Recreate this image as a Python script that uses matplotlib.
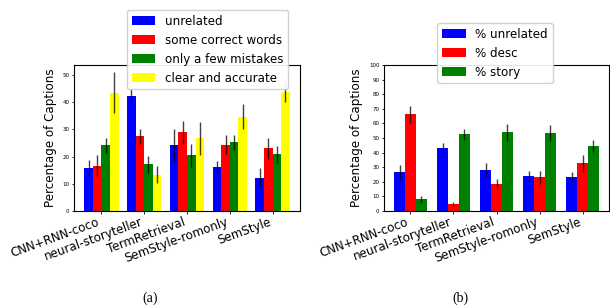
import matplotlib
matplotlib.use("Agg")
import matplotlib.pyplot as plt
import numpy as np

methods = ["CNN+RNN-coco", "neural-storyteller", "TermRetrieval", "SemStyle-romonly", "SemStyle"]

# Panel (a)
labels_a = ["unrelated", "some correct words", "only a few mistakes", "clear and accurate"]
colors_a = ["blue", "red", "green", "yellow"]
unrelated_a = [15.8, 42.4, 24.1, 16.0, 12.3]
unrelated_a_err = [3.1, 2.4, 6.0, 2.5, 3.5]
somewords_a = [16.7, 27.4, 28.9, 24.4, 23.0]
somewords_a_err = [3.8, 2.6, 4.2, 3.5, 4.0]
fewmist_a = [24.1, 17.1, 20.4, 25.2, 20.8]
fewmist_a_err = [2.7, 3.2, 4.2, 2.8, 3.2]
clear_a = [43.5, 13.4, 26.7, 34.7, 43.8]
clear_a_err = [7.6, 3.0, 6.1, 4.5, 3.8]

# Panel (b)
labels_b = ["% unrelated", "% desc", "% story"]
colors_b = ["blue", "red", "green"]
unrelated_b = [26.5, 43.2, 27.9, 23.7, 23.1]
unrelated_b_err = [5.1, 3.7, 5.2, 3.8, 3.5]
desc_b = [66.2, 4.6, 18.3, 23.1, 32.6]
desc_b_err = [5.7, 1.4, 3.3, 4.3, 5.7]
story_b = [8.0, 52.5, 53.9, 53.2, 44.5]
story_b_err = [2.3, 3.7, 6.0, 5.5, 4.0]

fig = plt.figure(figsize=(6.10, 3.08), dpi=100)
ax1 = fig.add_axes([74/610, 1-211/308, 226/610, 146/308])
ax2 = fig.add_axes([384/610, 1-211/308, 225/610, 146/308])

FS = 8.6
x = np.arange(len(methods))

def draw(ax, series, errs, labels, colors, width):
    n = len(series)
    handles = []
    for i, (vals, e, lab, c) in enumerate(zip(series, errs, labels, colors)):
        off = (i - (n - 1) / 2) * width
        h = ax.bar(x + off, vals, width, yerr=e, color=c, label=lab,
                   error_kw=dict(ecolor="black", elinewidth=1.0, alpha=0.75))
        handles.append(h)
    ax.set_xticks(x)
    ax.set_xticklabels(methods, rotation=20, ha="right", fontsize=FS,
                       rotation_mode="default")
    ax.set_ylabel("Percentage of Captions", fontsize=FS)
    ax.tick_params(axis="y", labelsize=4, length=1.8, width=0.6, pad=1.5)
    ax.tick_params(axis="x", length=1.8, width=0.6, pad=1.5)
    for s in ax.spines.values():
        s.set_linewidth(0.8)
    return handles

draw(ax1, [unrelated_a, somewords_a, fewmist_a, clear_a],
     [unrelated_a_err, somewords_a_err, fewmist_a_err, clear_a_err],
     labels_a, colors_a, 0.2)
ax1.set_yticks([0, 10, 20, 30, 40, 50])

draw(ax2, [unrelated_b, desc_b, story_b],
     [unrelated_b_err, desc_b_err, story_b_err],
     labels_b, colors_b, 0.25)
ax2.set_ylim(0, 100)
ax2.set_yticks(np.arange(0, 101, 10))

ax1.legend(loc="upper center", bbox_to_anchor=(207.5/610, 1-4/308),
           bbox_transform=fig.transFigure, fontsize=FS, framealpha=0.9,
           borderpad=0.4)
ax2.legend(loc="upper center", bbox_to_anchor=(495/610, 1-17/308),
           bbox_transform=fig.transFigure, fontsize=FS, framealpha=0.9,
           borderpad=0.4)

fig.text(150/610, 1-298/308, "(a)", fontsize=10, family="Liberation Serif",
         ha="center", va="center")
fig.text(460/610, 1-298/308, "(b)", fontsize=10, family="Liberation Serif",
         ha="center", va="center")

fig.savefig("out.png", dpi=100)
